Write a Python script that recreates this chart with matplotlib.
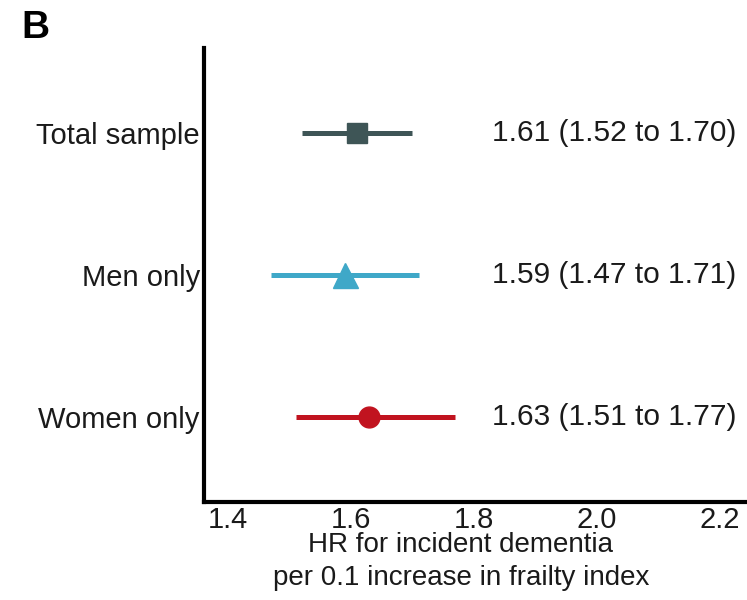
import matplotlib
matplotlib.use('Agg')
import matplotlib.pyplot as plt

plt.rcParams['font.family'] = ['Liberation Sans', 'DejaVu Sans']

# data
groups = ['Total sample', 'Men only', 'Women only']
hr = [1.61, 1.59, 1.63]
lower = [1.52, 1.47, 1.51]
upper = [1.70, 1.71, 1.77]
colors = ['#3e5556', '#3fa8c8', '#c1131f']
markers = ['s', '^', 'o']
msizes = [14.5, 18, 15]
xticks = [1.4, 1.6, 1.8, 2.0, 2.2]

fig = plt.figure(figsize=(7.47, 6), dpi=100)
ax = fig.add_axes([0.273, 0.163, 0.727, 0.757])

ypos = [3, 2, 1]
for y, m, lo, hi, c, mk, ms in zip(ypos, hr, lower, upper, colors, markers, msizes):
    ax.plot([lo, hi], [y, y], color=c, lw=3.6, solid_capstyle='butt', zorder=2)
    ax.plot(m, y, marker=mk, color=c, ms=ms, mec=c, zorder=3)
    ax.text(1.83, y, f"{m:.2f} ({lo:.2f} to {hi:.2f})", ha='left', va='center',
            fontsize=21.5, color='#1a1a1a')

ax.set_xlim(1.361, 2.244)
ax.set_ylim(0.4, 3.6)
ax.set_xticks(xticks)
ax.set_xticklabels([f"{t:.1f}" for t in xticks])
ax.set_yticks(ypos)
ax.set_yticklabels(groups)
ax.tick_params(length=0, labelsize=21, labelcolor='#1a1a1a')
ax.tick_params(axis='y', pad=3)
ax.tick_params(axis='x', pad=3)

for s in ['top', 'right']:
    ax.spines[s].set_visible(False)
for s in ['left', 'bottom']:
    ax.spines[s].set_linewidth(3)
    ax.spines[s].set_color('black')

ax.set_xlabel('HR for incident dementia\nper 0.1 increase in frailty index',
              fontsize=20, color='#1a1a1a', linespacing=1.35)
ax.xaxis.set_label_coords(0.473, -0.066, transform=ax.transAxes)
ax.xaxis.label.set_va('top')

fig.text(0.029, 0.937, 'B', fontsize=28, fontweight='bold', ha='left', va='baseline')

fig.savefig('out.png', dpi=100)
